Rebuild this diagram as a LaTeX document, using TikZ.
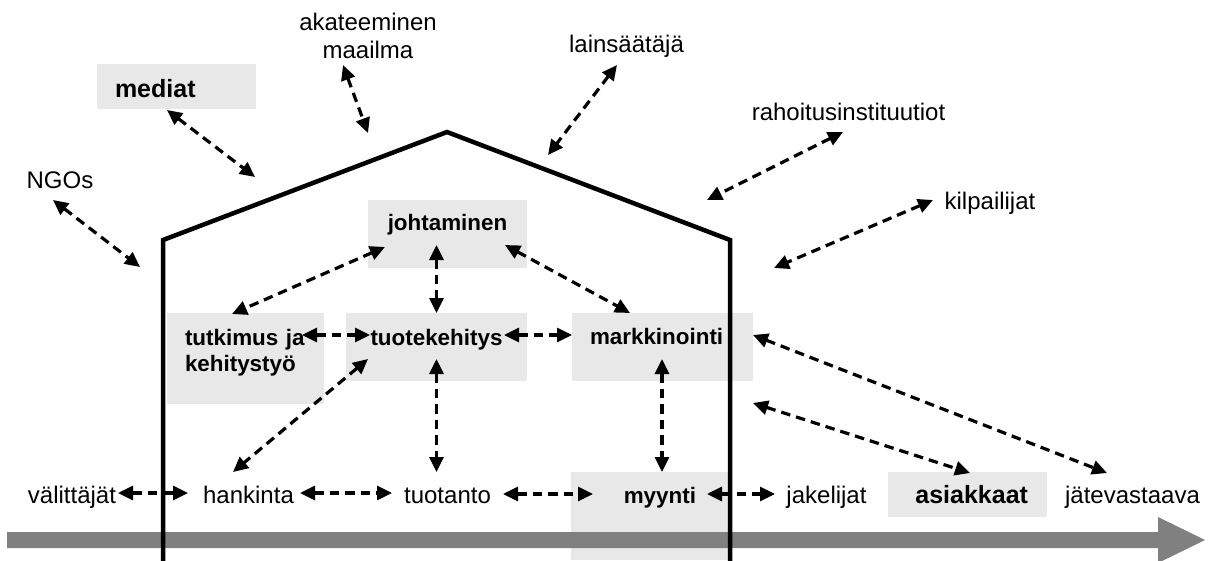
\documentclass[tikz,border=0pt]{standalone}
\usepackage{fontspec}
\setmainfont{Liberation Sans}
\usetikzlibrary{arrows.meta}
\definecolor{boxgray}{HTML}{E8E8E8}
\definecolor{flowgray}{HTML}{808080}
\begin{document}
\begin{tikzpicture}[x=1pt,y=-1pt,
  every node/.style={inner sep=0pt, outer sep=0pt},
  lbl/.style={font=\fontsize{24}{28}\selectfont, anchor=base},
  area/.style={fill=boxgray, anchor=north west},
  ibold/.style={font=\fontsize{22.4}{26}\selectfont\bfseries},
  obold/.style={font=\fontsize{25}{28}\selectfont\bfseries},
  link/.style={line width=3.2pt, dash pattern=on 9.5pt off 6pt,
    {Triangle[length=15pt,width=14pt]}-{Triangle[length=15pt,width=14pt]}},
  wall/.style={line width=4.5pt, line join=miter},
  flow/.style={fill=flowgray}
]
\useasboundingbox (0,0) rectangle (1215,560);

% stakeholders outside the company
\node[lbl, align=center, text width=170pt] (aka) at (368,30) {akateeminen\\maailma};
\node[lbl] (lai) at (626.5,52) {lainsäätäjä};
\node[lbl] (rah) at (848.5,120) {rahoitusinstituutiot};
\node[lbl] (kil) at (990,209) {kilpailijat};
\node[lbl] (ngo) at (60,188) {NGOs};
\node[area, obold, inner xsep=18pt, text width=123pt, align=left,
      text height=33pt, text depth=12pt] (med) at (97,64) {mediat};

% functions inside the company
\node[area, ibold, minimum width=159pt, text height=30pt, text depth=38pt] (joh) at (368,200) {johtaminen};
\node[area, ibold, inner xsep=18pt, text width=121pt, align=left,
      text height=32pt, text depth=59pt] (tut) at (167,313) {tutkimus ja\\kehitystyö};
\node[area, ibold, minimum width=181pt, text height=32pt, text depth=36pt] (tke) at (346,313) {tuotekehitys};
\node[area, ibold, inner xsep=18pt, text width=145pt, align=left,
      text height=31pt, text depth=37pt] (mar) at (572,313) {markkinointi};
\node[area, ibold, inner xsep=32pt, text width=93pt, align=right,
      text height=31pt, text depth=57pt] (myy) at (571,472) {myynti};

% value chain row
\node[lbl] (vli) at (72,503) {välittäjät};
\node[lbl] (han) at (248.5,503) {hankinta};
\node[lbl] (tta) at (447.5,503) {tuotanto};
\node[lbl] (jak) at (826.5,503) {jakelijat};
\node[area, obold, inner xsep=19pt, text width=121pt, align=right,
      text height=31pt, text depth=14pt] (asi) at (888,472) {asiakkaat};
\node[lbl] (jat) at (1132.5,503) {jätevastaava};

% flow of the value chain
\fill[flow] (7,532) -- (1158,532) -- (1158,517) -- (1205,540) -- (1158,563)
  -- (1158,548) -- (7,548) -- cycle;

% company outline
\draw[wall] (163,562) -- (163,240) -- (447,132) -- (730,240) -- (730,562);

% points on the outline
\coordinate (cNGO) at (140,267);
\coordinate (cMed) at (255,177);
\coordinate (cAka) at (368,133);
\coordinate (cLai) at (548,155);
\coordinate (cRah) at (707,200);
\coordinate (cKil) at (774,268);
\coordinate (cAsi) at (753,403);

% links with the surroundings
\draw[link] ([shift={(-7,12)}]ngo.base) -- (cNGO);
\draw[link] ([shift={(-9.5,1)}]med.south) -- (cMed);
\draw[link] ([shift={(-25,35)}]aka.base) -- (cAka);
\draw[link] ([shift={(-9.5,13)}]lai.base) -- (cLai);
\draw[link] ([shift={(-5.5,12)}]rah.base) -- (cRah);
\draw[link] ([shift={(-57,-9)}]kil.base) -- (cKil);

% links between functions
\draw[link] ([shift={(17,47)}]joh.north west) -- ([shift={(65,1)}]tut.north west);
\draw[link] ([shift={(68.5,45)}]joh.north west) -- ([shift={(90.5,0)}]tke.north west);
\draw[link] ([shift={(137,45)}]joh.north west) -- ([shift={(58,0)}]mar.north west);
\draw[link] ([shift={(135,22)}]tut.north west) -- ([shift={(24,22)}]tke.north west);
\draw[link] ([shift={(158,22)}]tke.north west) -- ([shift={(0,22)}]mar.north west);
\draw[link] ([shift={(22,46)}]tke.north west) -- ([shift={(-15.5,-31)}]han.base);
\draw[link] ([shift={(90.5,46)}]tke.north west) -- ([shift={(-11,-31)}]tta.base);
\draw[link] ([shift={(90,46)}]mar.north west) -- ([shift={(91,0)}]myy.north west);
\draw[link] ([shift={(181,22)}]mar.north west) -- ([shift={(-25.5,-30)}]jat.base);
\draw[link] (cAsi) -- ([shift={(82,1)}]asi.north west);

% links along the value chain
\draw[link] ([shift={(46,-10)}]vli.base) -- ([shift={(-60.5,-10)}]han.base);
\draw[link] ([shift={(51.5,-10)}]han.base) -- ([shift={(-55.5,-10)}]tta.base);
\draw[link] ([shift={(55.5,-9)}]tta.base) -- ([shift={(22,22)}]myy.north west);
\draw[link] ([shift={(136,22)}]myy.north west) -- ([shift={(-51.5,-9)}]jak.base);
\end{tikzpicture}
\end{document}
